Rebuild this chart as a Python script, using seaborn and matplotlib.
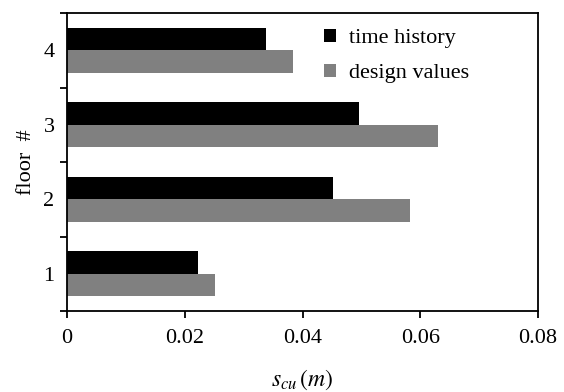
import matplotlib
matplotlib.use("Agg")
import matplotlib.pyplot as plt
import seaborn as sns
import pandas as pd
import numpy as np

floors = ["4", "3", "2", "1"]
time_history = [0.0338, 0.0496, 0.0451, 0.0223]
design_values = [0.0384, 0.0630, 0.0583, 0.0251]
series_names = ["time history", "design values"]
x_ticks = [0, 0.02, 0.04, 0.06, 0.08]
x_tick_labels = ["0", "0.02", "0.04", "0.06", "0.08"]

sns.set_theme(style="white")
plt.rcParams["font.family"] = ["Liberation Serif", "DejaVu Serif"]
plt.rcParams["mathtext.fontset"] = "stix"
for k in ["text.color", "axes.labelcolor", "xtick.color", "ytick.color", "axes.edgecolor"]:
    plt.rcParams[k] = "black"

df = pd.DataFrame({
    "floor": floors * 2,
    "value": time_history + design_values,
    "series": [series_names[0]] * len(floors) + [series_names[1]] * len(floors),
})

fig = plt.figure(figsize=(5.64, 3.92), dpi=100)
ax = fig.add_axes([0.1188, 0.2066, 0.954 - 0.1188, 0.9668 - 0.2066])

sns.barplot(data=df, x="value", y="floor", hue="series", order=floors,
            hue_order=series_names, palette=["#000000", "#808080"],
            orient="h", width=0.6, ax=ax, saturation=1, linewidth=0)

ax.set_xlim(0, 0.08)
ax.set_ylim(3.5, -0.5)
ax.set_xticks(x_ticks)
ax.set_xticklabels(x_tick_labels, fontsize=16)
ax.tick_params(axis="x", direction="out", length=5, width=1.3, pad=8,
               bottom=True, colors="black")
ax.tick_params(axis="y", which="major", length=0, pad=9, labelsize=16)
ax.set_yticks(np.arange(-0.5, 4.0, 1.0), minor=True)
ax.tick_params(axis="y", which="minor", direction="out", length=5, width=1.3, left=True)

for s in ax.spines.values():
    s.set_visible(True)
    s.set_color("black")
    s.set_linewidth(1.3)

ax.set_ylabel("floor  #", fontsize=16, labelpad=5)
ax.set_xlabel(r"$s_{cu}\,(m)$", fontsize=17, labelpad=14)

leg = ax.legend(loc="upper left", bbox_to_anchor=(0.546, 0.947), frameon=False,
                fontsize=16, handlelength=0.55, handleheight=0.55,
                handletextpad=0.55, labelspacing=0.7, borderpad=0,
                borderaxespad=0)

fig.savefig("out.png", dpi=100)
